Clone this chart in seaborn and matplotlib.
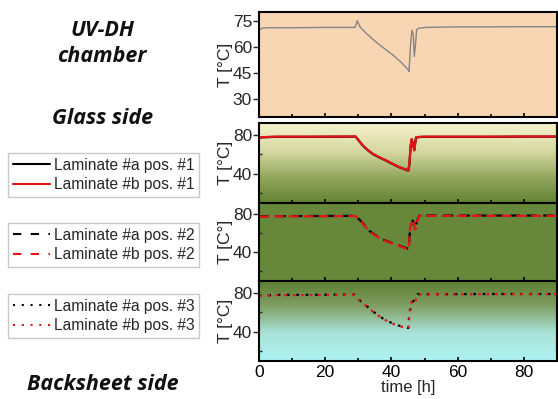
import numpy as np
import matplotlib
matplotlib.use("Agg")
import matplotlib.pyplot as plt
from matplotlib.lines import Line2D
from matplotlib.colors import LinearSegmentedColormap
from matplotlib.ticker import MultipleLocator
import seaborn as sns

sns.set_style("ticks")
plt.rcParams['font.family'] = ['Liberation Sans', 'DejaVu Sans']

# ---------------- data ----------------
t_chamber = [0, 1, 3, 10, 20, 29, 29.7, 30.5, 32.4, 34.5, 36.4, 38.5, 40.4, 42.8, 45.0,
             45.3, 45.8, 46.2, 46.6, 46.9, 47.3, 47.6, 48.5, 50.4, 60, 70, 80, 90]
T_chamber = [69.6, 70.8, 71, 71, 71.2, 71.2, 75, 71.5, 67.8, 64.2, 61.2, 58.2, 55.5, 51.5, 47.2,
             46, 62, 69.6, 67, 54.6, 62, 70, 70.8, 71.2, 71.5, 71.5, 71.6, 71.6]

t_pos1 = [0, 1, 5, 15, 29.2, 30.3, 31.4, 32.8, 34.4, 36.4, 38.4, 40.4, 42.4, 44, 45.1,
          45.4, 45.8, 46.1, 46.5, 46.9, 47.4, 48.5, 50, 60, 70, 80, 90]
T_pos1_b = [76.6, 77.5, 78, 78, 78.2, 73.5, 68.8, 64.5, 60.3, 56.8, 53.6, 50.1, 46.8, 44.8, 43.4,
            50, 69, 75.6, 70, 63.7, 77.3, 77.8, 78, 78, 78, 78.2, 78.2]
T_pos1_a = [76.4, 77.3, 77.8, 77.8, 78.0, 73.3, 68.6, 64.3, 60.1, 56.6, 53.4, 49.9, 46.6, 44.6, 43.2,
            49, 68, 75.0, 70.5, 64.5, 77.0, 77.6, 77.8, 77.8, 77.8, 78.0, 78.0]

t_pos2 = [0, 5, 15, 29.2, 31.3, 33.4, 35.4, 37.4, 39.9, 42.4, 45.1, 45.3, 45.6, 46.4, 46.8,
          47.2, 47.8, 48.4, 50, 60, 70, 80, 90]
T_pos2_b = [77.5, 78, 78, 78.3, 70.5, 62.1, 57.2, 53.2, 49.8, 46.8, 43.2, 46, 65.7, 74.6, 69,
            64, 73, 78.5, 78.5, 78.5, 78.5, 78.5, 78.5]
T_pos2_a = [77.8, 78.2, 78.3, 78.5, 71.0, 62.6, 57.6, 53.6, 50.2, 47.2, 43.8, 47, 64.5, 73.5, 70,
            66, 74, 78.8, 78.8, 78.8, 78.8, 78.8, 78.8]

t_pos3 = [0, 5, 15, 28.8, 30.5, 32.4, 35, 37.4, 40, 42.4, 45.1, 45.4, 46, 46.5, 46.9,
          47.4, 47.9, 50, 60, 70, 80, 90]
T_pos3_b = [76.5, 77.5, 77.5, 78, 71.5, 66.3, 59, 53.3, 48.8, 45.8, 43.4, 59.5, 70.4, 68.5, 68,
            73, 78.3, 78.3, 78.3, 78.5, 78.5, 78.5]
T_pos3_a = [76.8, 77.8, 77.8, 78.2, 71.8, 66.6, 59.3, 53.6, 49.1, 46.1, 43.8, 58, 68.5, 71, 72.5,
            74, 78.5, 78.5, 78.5, 78.7, 78.7, 78.7]

legend_labels = [["Laminate #a pos. #1", "Laminate #b pos. #1"],
                 ["Laminate #a pos. #2", "Laminate #b pos. #2"],
                 ["Laminate #a pos. #3", "Laminate #b pos. #3"]]

# ---------------- figure ----------------
W, H = 558, 399
fig = plt.figure(figsize=(W / 100, H / 100), dpi=100)

def ax_at(top_px, bot_px, left_px=259, right_px=557):
    return fig.add_axes([left_px / W, 1 - bot_px / H, (right_px - left_px) / W, (bot_px - top_px) / H])

ax1 = ax_at(12, 117)
ax2 = ax_at(123, 203)
ax3 = ax_at(203, 281)
ax4 = ax_at(281, 361)

XMAX = 90

def gradient(ax, colors, ylim):
    cmap = LinearSegmentedColormap.from_list("g", colors)
    grad = np.linspace(0, 1, 256).reshape(-1, 1)
    ax.imshow(grad, extent=[0, XMAX, ylim[0], ylim[1]], origin="upper", aspect="auto",
              cmap=cmap, zorder=0)

YL = (10, 92)
ax1.set_facecolor("#F8D5B3")
gradient(ax2, [(0, "#F6F2CC"), (0.35, "#D6D8A2"), (0.7, "#8FA45A"), (1, "#638433")], YL)
ax3.set_facecolor("#67883A")
gradient(ax4, [(0, "#5E7F30"), (0.3, "#7E9D62"), (0.65, "#A9E3D8"), (1, "#AEF3F3")], YL)

# lines
sns.lineplot(x=t_chamber, y=T_chamber, ax=ax1, color="#858585", lw=1.0, errorbar=None)

sns.lineplot(x=t_pos1, y=T_pos1_a, ax=ax2, color="black", lw=1.6, errorbar=None)
sns.lineplot(x=t_pos1, y=T_pos1_b, ax=ax2, color="#E8121A", lw=1.6, errorbar=None)

sns.lineplot(x=t_pos2, y=T_pos2_a, ax=ax3, color="black", lw=1.6, errorbar=None)
ax3.lines[-1].set_dashes((4.5, 3.0))
sns.lineplot(x=t_pos2, y=T_pos2_b, ax=ax3, color="#E8121A", lw=1.6, errorbar=None)
ax3.lines[-1].set_dashes((4.5, 2.2))

sns.lineplot(x=t_pos3, y=T_pos3_a, ax=ax4, color="black", lw=1.6, errorbar=None)
ax4.lines[-1].set_dashes((1.2, 3.0))
sns.lineplot(x=t_pos3, y=T_pos3_b, ax=ax4, color="#E8121A", lw=1.6, errorbar=None)
ax4.lines[-1].set_dashes((1.2, 2.6))

# axes styling
for ax in (ax1, ax2, ax3, ax4):
    ax.set_xlim(0, XMAX)
    ax.xaxis.set_major_locator(MultipleLocator(20))
    ax.xaxis.set_minor_locator(MultipleLocator(10))
    ax.tick_params(axis="x", which="both", direction="in", length=3, width=1.2,
                   labelsize=12.5, colors="black", top=False, pad=3)
    ax.tick_params(axis="x", which="minor", length=2)
    ax.tick_params(axis="y", which="major", direction="out", length=4, width=1.0,
                   labelsize=12.5, pad=1.0)
    ax.tick_params(axis="y", which="minor", direction="in", length=2, width=1.0)
    for s in ax.spines.values():
        s.set_linewidth(1.5)
        s.set_color("black")
        s.set_visible(True)
    ax.set_xlabel("")
    if ax is not ax4:
        ax.tick_params(axis="x", labelbottom=False)

ax1.set_ylim(20, 80)
ax1.set_yticks([30, 45, 60, 75])
ax1.yaxis.set_minor_locator(MultipleLocator(15))
ax1.tick_params(axis="y", which="minor", length=0)
for ax in (ax2, ax3, ax4):
    ax.set_ylim(*YL)
    ax.set_yticks([40, 80])
    ax.yaxis.set_minor_locator(MultipleLocator(20))

for ax, lab in zip((ax1, ax2, ax3, ax4), ["T [°C]", "T [°C]", "T [C°]", "T [°C]"]):
    ax.set_ylabel(lab, fontsize=12.5, labelpad=0)
ax4.set_xlabel("time [h]", fontsize=12, labelpad=0)

# left-side texts
tfont = dict(family=["Open Sans", "DejaVu Sans"], weight="bold", style="italic",
             fontsize=15.5, ha="center", va="center", color="#111111")
fig.text(102 / W, 1 - 30 / H, "UV-DH", **tfont)
fig.text(102 / W, 1 - 57 / H, "chamber", **tfont)
fig.text(103 / W, 1 - 118 / H, "Glass side", **tfont)
fig.text(103 / W, 1 - 385 / H, "Backsheet side", **tfont)

# legends
styles = [(None, None), ((4.0, 4.5), (4.0, 4.5)), ((1.0, 3.2), (1.0, 3.2))]
tops = [153, 223, 294]
for i in range(3):
    d = styles[i]
    hs = []
    for col, dd in zip(["black", "#E8121A"], d):
        ln = Line2D([0], [0], color=col, lw=1.5)
        if dd is not None:
            ln.set_dashes(dd)
        hs.append(ln)
    leg = fig.legend(hs, legend_labels[i], loc="upper left",
                     bbox_to_anchor=(8 / W, 1 - tops[i] / H), borderaxespad=0,
                     fontsize=11.2, frameon=True, fancybox=False, framealpha=1,
                     edgecolor="#C8C8C8", handlelength=2.4, handletextpad=0.25,
                     labelspacing=0.3, borderpad=0.3)
    leg.get_frame().set_linewidth(1.0)

fig.savefig("out.png", dpi=100)
